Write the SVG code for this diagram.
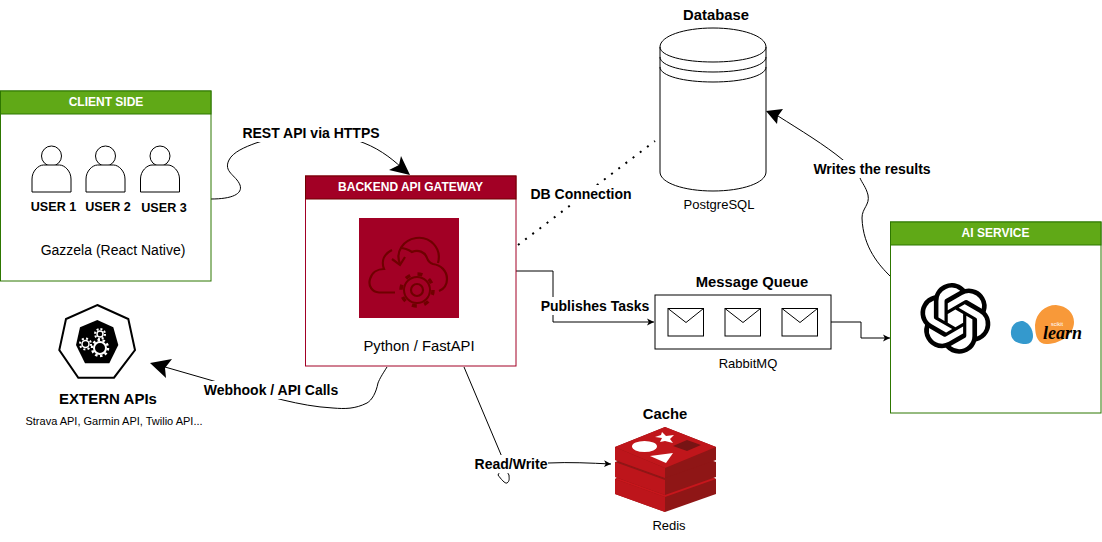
<svg xmlns="http://www.w3.org/2000/svg" width="1102" height="542" viewBox="0 0 1102 542">
<style>
text{font-family:"Liberation Sans",Arial,sans-serif;text-anchor:middle;fill:#000}
.b{font-weight:bold}
.t15{font-size:14.800px}.t14{font-size:14px}.t13{font-size:13px}.t125{font-size:12.600px}.t11{font-size:11px}
.hd{font-size:12px;font-weight:bold;fill:#fff}
.ln{fill:none;stroke:#000;stroke-width:1}
.box{fill:#fff;stroke-width:1}
.bg{fill:#fff}
.shape{fill:#fff;stroke:#000;stroke-width:1}
.ic{fill:none;stroke:#6f0000;stroke-width:2.200}
</style>
<defs>
<marker id="sm" markerWidth="10" markerHeight="10" refX="7" refY="4" orient="auto" markerUnits="userSpaceOnUse"><path d="M0,0.500 L7,4 L0,7.500 L1.800,4 Z" fill="#000"/></marker>
<g id="user"><circle cx="0" cy="-27" r="10" class="shape"/><path d="M-19.500,9 V-4 C-19.500,-12 -13,-18 -8,-18 H8 C13,-18 19.500,-12 19.500,-4 V9 Z" class="shape"/></g>
<g id="env"><rect x="0" y="0" width="35.500" height="27.500" class="shape"/><path d="M0,0 L18,14 L35.500,0" class="ln"/></g>
</defs>

<g id="connectors">
<path class="ln" d="M211,199 C232,199 243,194 240,185 C236,175 223,172 229,160 C233,152 245,147 256,143 C295,130 340,133 364,143 C382,150 396,162 405,171"/>
<path d="M410,175 L389,170 L399,165 L401,156 Z" fill="#000"/>
<path class="ln" d="M518,245 L655,141" style="stroke-width:2;stroke-dasharray:2 7"/>
<path class="ln" d="M516,271 H553 V322 H654" marker-end="url(#sm)"/>
<path class="ln" d="M831,322 H861 V338 H890" marker-end="url(#sm)"/>
<path class="ln" d="M890,276 C880,266 863,248 862,218 C862,208 870,205 868,195 C866,187 862,183 860,178 C855,170 850,165 843,160 C825,145 800,130 778,116"/>
<path d="M766,111 L783,109 L778,116 L777,124 Z" fill="#000"/>
<path class="ln" d="M387,367 C382,375 380,378 378,383 C376,393 372,400 367,403 C355,409 345,409 333,408 C315,407 300,404 283,400 C260,394 240,388 217,382 L165,367"/>
<path d="M150,363 L172,359 L165,368 L166,378 Z" fill="#000"/>
<path class="ln" d="M464,367 L502,457 C503,462 500,472 498,475 C501,479 505,484 507,483 C510,481 509,478 509,475 C505,472 515,464 510,463 H548 C570,462 590,463 611,464" marker-end="url(#sm)"/>
</g>

<g id="labels">
<rect class="bg" x="242" y="124" width="138" height="18"/>
<text class="b t14" x="311" y="138">REST API via HTTPS</text>
<rect class="bg" x="530" y="185" width="103" height="18"/>
<text class="b t14" x="581" y="199">DB Connection</text>
<rect class="bg" x="541" y="297" width="109" height="18"/>
<text class="b t14" x="595" y="311">Publishes Tasks</text>
<rect class="bg" x="813" y="160" width="118" height="18"/>
<text class="b t14" x="872" y="174">Writes the results</text>
<rect class="bg" x="203" y="381" width="136" height="18"/>
<text class="b t14" x="271" y="395">Webhook / API Calls</text>
<rect class="bg" x="474" y="455" width="74" height="18"/>
<text class="b t14" x="511" y="469">Read/Write</text>
</g>

<g id="client">
<rect class="box" x="0.500" y="91" width="210.500" height="190" stroke="#2d7600"/>
<rect x="0.500" y="91" width="210.500" height="23" fill="#60a917" stroke="#2d7600"/>
<text class="hd" x="106" y="106">CLIENT SIDE</text>
<use href="#user" x="51.500" y="183"/>
<use href="#user" x="105.500" y="183"/>
<use href="#user" x="160" y="183"/>
<text class="b t125" x="53.500" y="211">USER 1</text>
<text class="b t125" x="108" y="211">USER 2</text>
<text class="b t125" x="164" y="212">USER 3</text>
<text class="t14" x="113" y="255">Gazzela (React Native)</text>
</g>

<g id="gateway">
<rect class="box" x="305.500" y="176" width="210.500" height="190" stroke="#a20025"/>
<rect x="305.500" y="176" width="210.500" height="23" fill="#a20025" stroke="#6f0000"/>
<text class="hd" x="410.500" y="191">BACKEND API GATEWAY</text>
<rect x="359" y="218" width="100" height="100" fill="#a20025"/>
<path class="ic" d="M395,292.500 H379 C372,292 368,286 370,279 C372,272 378,269 384,269 C381,261 384,254 392,250"/>
<path class="ic" d="M400,248 C405,248 409,250 412,252 C418,249 425,252 427,258 C428,261 430,263 433,264 C441,265 447,271 447,279 C447,285 444,289 439,291"/>
<path class="ic" d="M400,264 C395,252 403,240 416,238 C430,236 442,248 438,263"/>
<path class="ic" d="M392,259 L400,265 L405,257"/>
<circle cx="417" cy="290" r="13" fill="#a20025" stroke="#6f0000" stroke-width="2"/>
<circle cx="417" cy="290" r="16" fill="none" stroke="#6f0000" stroke-width="3.500" stroke-dasharray="5 7.570"/>
<circle cx="417" cy="290" r="6" class="ic"/>
<text class="t15" x="419" y="351">Python / FastAPI</text>
</g>

<g id="database">
<text class="b t15" x="716" y="20">Database</text>
<path class="shape" d="M660,47 C660,36 684,28 713,28 C742,28 766,36 766,47 V172 C766,183 742,191 713,191 C684,191 660,183 660,172 Z"/>
<path class="ln" d="M660,47 C660,56 684,62 713,62 C742,62 766,56 766,47"/>
<path class="ln" d="M660,57 C660,66 684,72 713,72 C742,72 766,66 766,57"/>
<path class="ln" d="M660,67 C660,76 684,82 713,82 C742,82 766,76 766,67"/>
<text class="t13" x="719" y="209">PostgreSQL</text>
</g>

<g id="queue">
<text class="b t15" x="752" y="287">Message Queue</text>
<rect class="shape" x="655" y="295" width="176" height="54"/>
<use href="#env" x="668" y="308.500"/>
<use href="#env" x="725" y="308.500"/>
<use href="#env" x="782" y="308.500"/>
<text class="t13" x="748" y="368">RabbitMQ</text>
</g>

<g id="ai">
<rect class="box" x="890.500" y="222" width="210.500" height="191" stroke="#2d7600"/>
<rect x="890.500" y="222" width="210.500" height="23" fill="#60a917" stroke="#2d7600"/>
<text class="hd" x="995.500" y="237">AI SERVICE</text>
<path transform="translate(920,283) scale(2.950)" d="M22.2819 9.8211a5.9847 5.9847 0 0 0-.5157-4.9108 6.0462 6.0462 0 0 0-6.5098-2.9A6.0651 6.0651 0 0 0 4.9807 4.1818a5.9847 5.9847 0 0 0-3.9977 2.9 6.0462 6.0462 0 0 0 .7427 7.0966 5.98 5.98 0 0 0 .511 4.9107 6.051 6.051 0 0 0 6.5146 2.9001A5.9847 5.9847 0 0 0 13.2599 24a6.0557 6.0557 0 0 0 5.7718-4.2058 5.9894 5.9894 0 0 0 3.9977-2.9001 6.0557 6.0557 0 0 0-.7475-7.0729zm-9.022 12.6081a4.4755 4.4755 0 0 1-2.8764-1.0408l.1419-.0804 4.7783-2.7582a.7948.7948 0 0 0 .3927-.6813v-6.7369l2.02 1.1686a.071.071 0 0 1 .038.052v5.5826a4.504 4.504 0 0 1-4.4945 4.4944zm-9.6607-4.1254a4.4708 4.4708 0 0 1-.5346-3.0137l.142.0852 4.783 2.7582a.7712.7712 0 0 0 .7806 0l5.8428-3.3685v2.3324a.0804.0804 0 0 1-.0332.0615L9.74 19.9502a4.4992 4.4992 0 0 1-6.1408-1.6464zM2.3408 7.8956a4.485 4.485 0 0 1 2.3655-1.9728V11.6a.7664.7664 0 0 0 .3879.6765l5.8144 3.3543-2.0201 1.1685a.0757.0757 0 0 1-.071 0l-4.8303-2.7865A4.504 4.504 0 0 1 2.3408 7.872zm16.5963 3.8558L13.1038 8.364 15.1192 7.2a.0757.0757 0 0 1 .071 0l4.8303 2.7913a4.4944 4.4944 0 0 1-.6765 8.1042v-5.6772a.79.79 0 0 0-.407-.667zm2.0107-3.0231l-.142-.0852-4.7735-2.7818a.7759.7759 0 0 0-.7854 0L9.409 9.2297V6.8974a.0662.0662 0 0 1 .0284-.0615l4.8303-2.7866a4.4992 4.4992 0 0 1 6.6802 4.66zM8.3065 12.863l-2.02-1.1638a.0804.0804 0 0 1-.038-.0567V6.0742a4.4992 4.4992 0 0 1 7.3757-3.4537l-.142.0805L8.704 5.459a.7948.7948 0 0 0-.3927.6813zm1.0976-2.3654l2.602-1.4998 2.6069 1.4998v2.9994l-2.5974 1.4997-2.6067-1.4997Z" fill="#000"/>
<path d="M1011,331 C1012,324 1017,321 1023,321 C1029,323 1033,329 1033,336 C1033,341 1030,344 1026,344 C1017,344 1010,340 1011,331 Z" fill="#3499cd"/>
<path d="M1035,325 C1036,313 1045,305 1056,305 C1067,306 1074,313 1074,322 C1074,334 1062,343 1048,344 C1039,345 1035,338 1035,325 Z" fill="#f89939"/>
<text x="1057" y="326" style="font-size:5.500px;fill:#fff">scikit</text>
<text x="1062.500" y="339" style="font-family:'Liberation Serif',serif;font-size:18px;font-style:italic;font-weight:bold">learn</text>
</g>

<g id="extern">
<path d="M97.300,305 L128.300,319 L135,350 L114,377.700 L78.300,377.700 L59.300,350 L66,319 Z" fill="#fff" stroke="#000" stroke-width="2"/>
<path d="M97.300,320 L113.300,327.300 L118.300,345 L109.300,363.300 L85,363.300 L76,345 L80,327.300 Z" fill="#000"/>
<g fill="none" stroke="#fff">
<circle cx="100" cy="348" r="6" stroke-width="2"/><circle cx="100" cy="348" r="8" stroke-width="2.500" stroke-dasharray="2.500 2.500"/>
<circle cx="85.500" cy="344" r="3.500" stroke-width="1.500"/><circle cx="85.500" cy="344" r="5.500" stroke-width="2" stroke-dasharray="2 2.300"/>
<circle cx="100" cy="334" r="3" stroke-width="1.500"/><circle cx="100" cy="334" r="5" stroke-width="2" stroke-dasharray="2 1.900"/>
</g>
<text class="b" x="108" y="404" style="font-size:15px">EXTERN APIs</text>
<text class="t11" x="114" y="425">Strava API, Garmin API, Twilio API...</text>
</g>

<g id="cache">
<text class="b t15" x="665" y="419">Cache</text>
<path d="M615,479 L665,460 L716,479 V494 L665,512 L615,494 Z" fill="#8f1616"/>
<path d="M615,479 V494 L665,512 V497 Z" fill="#bd151b"/>
<path d="M615,479 L665,497 L716,479 L712,477 L665,494 L618,477 Z" fill="#c6161c"/>
<path d="M615,462 L665,443 L716,462 V477 L665,495 L615,477 Z" fill="#8f1616"/>
<path d="M615,462 V477 L665,495 V480 Z" fill="#bd151b"/>
<path d="M615,447 L665,427 L716,447 V460 L665,478 L615,460 Z" fill="#8f1616"/>
<path d="M615,447 V460 L665,478 V468 Z" fill="#bd151b"/>
<path d="M615,447 L665,468 L716,447 L665,427 Z" fill="#c0161b"/>
<ellipse cx="644.500" cy="446.500" rx="12.500" ry="5.500" fill="#fff"/>
<path d="M662,432 L666,436 L674,435 L670,439 L673,443 L665,441 L660,442 L662,438 L655,437 L661,435 Z" fill="#fff"/>
<path d="M650,456 L673,453 L666,463 Z" fill="#fff"/>
<path d="M673,446 L687,440 L701,445 L687,451 Z" fill="#771414"/>
<text class="t13" x="669" y="530">Redis</text>
</g>
</svg>
